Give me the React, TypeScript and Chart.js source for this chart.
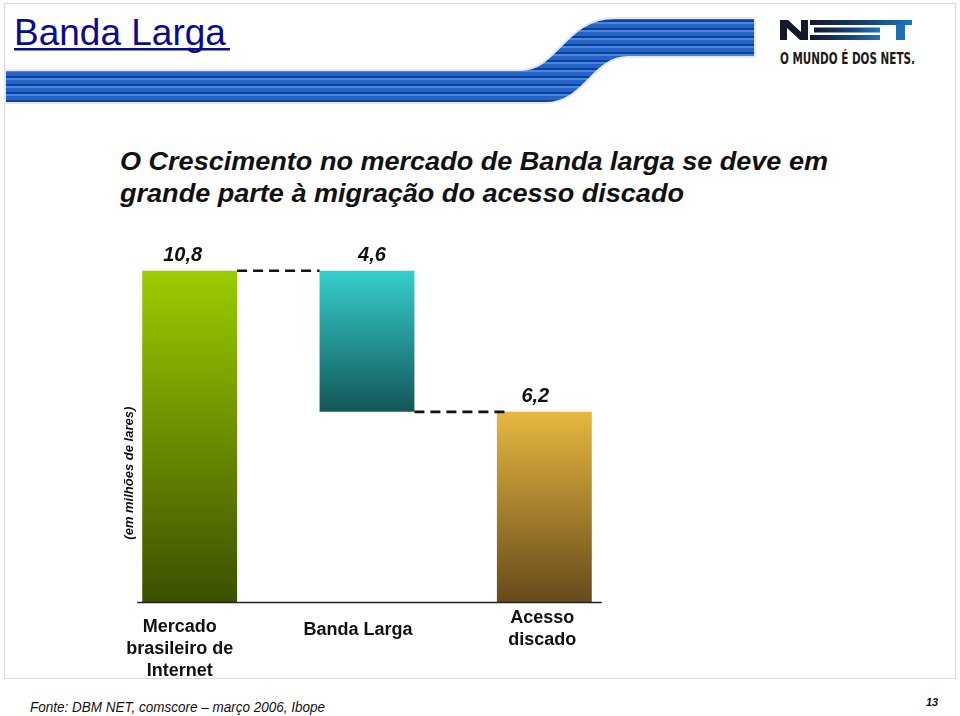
import React, { useEffect, useRef } from "react";
import { Chart, registerables } from "chart.js";

Chart.register(...registerables);

// ---------- data ----------
const categoryLines: string[][] = [
  ["Mercado", "brasileiro de", "Internet"],
  ["Banda Larga"],
  ["Acesso", "discado"],
];
const values: number[] = [10.8, 4.6, 6.2];
const valueLabels: string[] = ["10,8", "4,6", "6,2"];
const yAxisTitle = "(em milhões de lares)";
const yMin = 0;
const yMax = 12;

// ---------- styles ----------
const topColors = ["#9CCC00", "#36CECE", "#E6B840"];
const bottomColors = ["#3A5000", "#135657", "#664A1B"];
const labelBaselineOffsets = [30, 33, 21]; // px below axis line for first line
const labelShift = [-10, -9, -2];
const valueLabelShift = [-7, 5, -9];
const FONT = "'Liberation Sans', Arial, Helvetica, sans-serif";

// waterfall ranges built from the values
const ranges: [number, number][] = [
  [0, values[0]],
  [values[0] - values[1], values[0]],
  [0, values[2]],
];

const overlayPlugin = {
  id: "waterfallOverlay",
  afterDatasetsDraw(chart: any) {
    const { ctx, scales } = chart;
    const x = scales.x;
    const y = scales.y;
    const meta = chart.getDatasetMeta(0);
    const bars = meta.data as any[];
    if (!bars || bars.length < 3) return;
    const half = (b: any) => b.width / 2;

    ctx.save();
    // dashed connectors
    ctx.strokeStyle = "#111";
    ctx.lineWidth = 2.6;
    ctx.setLineDash([10, 6]);
    const y1 = y.getPixelForValue(values[0]);
    ctx.beginPath();
    ctx.moveTo(bars[0].x + half(bars[0]), y1);
    ctx.lineTo(bars[1].x - half(bars[1]), y1);
    ctx.stroke();
    const y2 = y.getPixelForValue(values[0] - values[1]);
    ctx.beginPath();
    ctx.moveTo(bars[1].x + half(bars[1]), y2);
    ctx.lineTo(bars[2].x - half(bars[2]) + 8, y2);
    ctx.stroke();
    ctx.setLineDash([]);

    // baseline axis
    const y0 = y.getPixelForValue(0);
    ctx.strokeStyle = "#222";
    ctx.lineWidth = 1.5;
    ctx.beginPath();
    ctx.moveTo(bars[0].x - half(bars[0]) - 5, y0 + 0.5);
    ctx.lineTo(bars[2].x + half(bars[2]) + 10, y0 + 0.5);
    ctx.stroke();

    // value labels
    ctx.fillStyle = "#111";
    ctx.textAlign = "center";
    ctx.textBaseline = "alphabetic";
    ctx.font = `italic bold 20px ${FONT}`;
    ranges.forEach((r, i) => {
      const top = y.getPixelForValue(r[1]);
      ctx.fillText(valueLabels[i], x.getPixelForValue(i) + valueLabelShift[i], top - 10);
    });

    // category labels
    ctx.font = `bold 18px ${FONT}`;
    categoryLines.forEach((lines, i) => {
      const cx = x.getPixelForValue(i) + labelShift[i];
      lines.forEach((line, j) => {
        ctx.fillText(line, cx, y0 + labelBaselineOffsets[i] + j * 22);
      });
    });

    // rotated y title
    ctx.font = `italic bold 13px ${FONT}`;
    ctx.translate(bars[0].x - half(bars[0]) - 13, y.getPixelForValue(4.2));
    ctx.rotate(-Math.PI / 2);
    ctx.textBaseline = "middle";
    ctx.fillText(yAxisTitle, 0, 0);
    ctx.restore();
  },
};

function WaterfallChart() {
  const ref = useRef<HTMLCanvasElement | null>(null);
  useEffect(() => {
    if (!ref.current) return;
    const chart = new Chart(ref.current, {
      type: "bar",
      data: {
        labels: categoryLines.map((l) => l.join(" ")),
        datasets: [
          {
            data: ranges as any,
            borderWidth: 0,
            barPercentage: 0.535,
            categoryPercentage: 1,
            backgroundColor: (c: any) => {
              const i = c.dataIndex;
              if (i === undefined) return topColors[0];
              const ys = c.chart.scales?.y;
              if (!ys) return topColors[i];
              const t = ys.getPixelForValue(ranges[i][1]);
              const b = ys.getPixelForValue(ranges[i][0]);
              if (!isFinite(t) || !isFinite(b) || t === b) return topColors[i];
              const g = c.chart.ctx.createLinearGradient(0, t, 0, b);
              g.addColorStop(0, topColors[i]);
              g.addColorStop(1, bottomColors[i]);
              return g;
            },
          },
        ],
      },
      options: {
        animation: false,
        responsive: false,
        layout: { padding: { left: 101, right: 327, top: 234, bottom: 114 } },
        scales: {
          x: { display: false },
          y: { display: false, min: yMin, max: yMax },
        },
        plugins: { legend: { display: false }, tooltip: { enabled: false } },
      },
      plugins: [overlayPlugin],
    });
    return () => chart.destroy();
  }, []);
  return (
    <canvas
      ref={ref}
      width={960}
      height={716}
      style={{ position: "absolute", left: 0, top: 0, width: 960, height: 716 }}
    />
  );
}

export default function App() {
  return (
    <div
      style={{
        position: "absolute",
        left: 0,
        top: 0,
        width: 960,
        height: 716,
        background: "#fff",
        overflow: "hidden",
      }}
    >
      <svg
        width={960}
        height={716}
        style={{ position: "absolute", left: 0, top: 0 }}
        fontFamily={FONT}
      >
        <defs>
          <pattern id="stripes" patternUnits="userSpaceOnUse" width="10" height="8">
            <rect x="0" y="0" width="10" height="8" fill="#2463c8" />
            <rect x="0" y="4" width="10" height="2" fill="#0f3f98" />
            <rect x="0" y="6" width="10" height="2" fill="#4688de" />
          </pattern>
          <linearGradient id="eGrad" x1="0" x2="1" y1="0" y2="0">
            <stop offset="0" stopColor="#13192b" />
            <stop offset="0.55" stopColor="#173f78" />
            <stop offset="1" stopColor="#1e74bf" />
          </linearGradient>
        </defs>
        {/* frame */}
        <rect x={4.5} y={3.5} width={951} height={675} fill="none" stroke="#d9d9d9" />
        {/* blue swoosh band */}
        <path
          d="M 5 70 L 520 70 C 558 70, 565 18, 615 18 L 755 18 L 755 57 L 628 57 C 592 57, 585 103, 545 103 L 5 103 Z"
          fill="url(#stripes)"
          stroke="#e4e8ee"
          strokeWidth={2}
        />
        {/* title */}
        <text x={14} y={45} fontSize={37} fill="#0b0b8c">
          Banda Larga
        </text>
        <rect x={14} y={48} width={216} height={2.5} fill="#0b0b8c" />
        {/* logo */}
        <polygon
          points="780,40 780,20 788,20 801,32 801,20 808,20 808,40 800,40 787,28 787,40"
          fill="#13192b"
        />
        <rect x={810} y={20} width={102} height={5} fill="url(#eGrad)" />
        <rect x={814} y={27.5} width={66} height={5} fill="url(#eGrad)" />
        <rect x={810} y={35} width={70} height={5} fill="url(#eGrad)" />
        <rect x={896} y={24} width={9} height={16} fill="#1d6fb8" />
        <text
          x={780}
          y={64}
          fontSize={16}
          fontWeight="bold"
          fill="#1a1a1a"
          textLength={135}
          lengthAdjust="spacingAndGlyphs"
          fontFamily="'DejaVu Sans Condensed', 'Liberation Sans Narrow', Arial, sans-serif"
        >
          O MUNDO É DOS NETS.
        </text>
        {/* subtitle */}
        <text
          x={120}
          y={170}
          fontSize={26}
          fontStyle="italic"
          fontWeight="bold"
          fill="#111"
          textLength={708}
          lengthAdjust="spacingAndGlyphs"
        >
          O Crescimento no mercado de Banda larga se deve em
        </text>
        <text
          x={120}
          y={202}
          fontSize={26}
          fontStyle="italic"
          fontWeight="bold"
          fill="#111"
          textLength={564}
          lengthAdjust="spacingAndGlyphs"
        >
          grande parte à migração do acesso discado
        </text>
        {/* footer */}
        <text
          x={30}
          y={712}
          fontSize={15}
          fontStyle="italic"
          fill="#111"
          textLength={295}
          lengthAdjust="spacingAndGlyphs"
        >
          Fonte: DBM NET, comscore – março 2006, Ibope
        </text>
        <text x={926} y={706} fontSize={11} fontStyle="italic" fontWeight="bold" fill="#111">
          13
        </text>
      </svg>
      <WaterfallChart />
    </div>
  );
}
